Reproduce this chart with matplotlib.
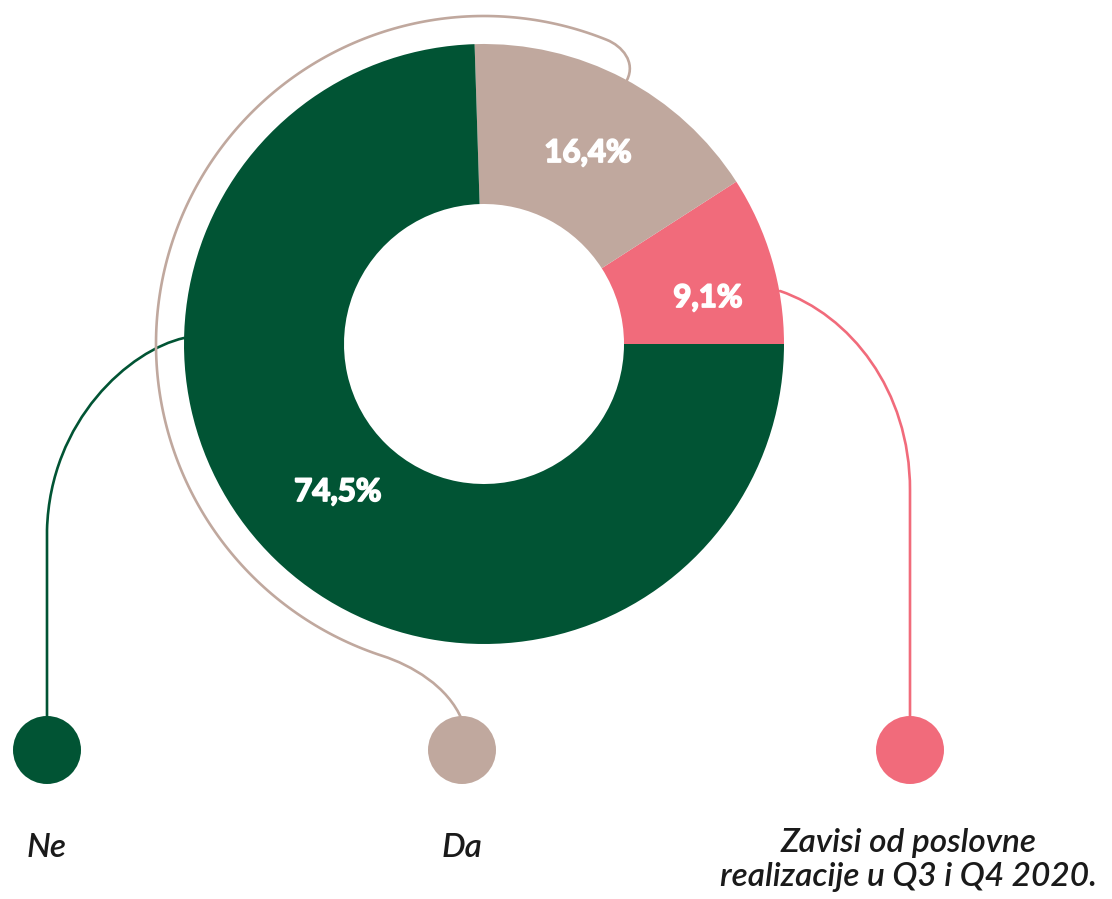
import numpy as np
import matplotlib
matplotlib.use("Agg")
import matplotlib.pyplot as plt
import matplotlib.patheffects as pe
from matplotlib.path import Path
from matplotlib.patches import PathPatch, Circle

# ---- data ----
categories = ["Zavisi od poslovne\nrealizacije u Q3 i Q4 2020.", "Da", "Ne"]
values = [9.1, 16.4, 74.5]
value_labels = ["9,1%", "16,4%", "74,5%"]
colors = ["#F16B7B", "#C0A89E", "#015434"]

W, H = 1112, 899
def P(x, y):
    return (x, H - y)

fig = plt.figure(figsize=(W / 100, H / 100), dpi=100)
ax = fig.add_axes([0, 0, 1, 1])

cx, cy, R, width = 484, 344, 300, 160
ax.pie(values, colors=colors, startangle=0, counterclock=True, radius=R,
       center=P(cx, cy), frame=True,
       wedgeprops=dict(width=width, linewidth=0))

# value labels
label_pos = [(708, 298), (588, 153), (338, 492)]
for (x, y), t in zip(label_pos, value_labels):
    ax.text(*P(x, y), t, color="white", fontsize=22.5, fontweight="bold",
            family=["Lato", "DejaVu Sans"], ha="center", va="center",
            path_effects=[pe.withStroke(linewidth=1.3, foreground="white")])

lw = 1.9

def bez_path(segs):
    verts, codes = [], []
    for i, seg in enumerate(segs):
        kind, pts = seg
        if i == 0:
            verts.append(P(*pts[0])); codes.append(Path.MOVETO)
            pts = pts[1:]
        if kind == "L":
            for p in pts:
                verts.append(P(*p)); codes.append(Path.LINETO)
        else:
            for p in pts:
                verts.append(P(*p)); codes.append(Path.CURVE4)
    return Path(verts, codes)

# green connector
g = bez_path([("C", [(184, 338), (130, 350), (50, 420), (47, 530)]),
              ("L", [(47, 720)])])
ax.add_patch(PathPatch(g, fill=False, edgecolor=colors[2], lw=lw, capstyle="round"))

# pink connector
p = bez_path([("C", [(780, 291), (850, 315), (910, 390), (910, 490)]),
              ("L", [(910, 720)])])
ax.add_patch(PathPatch(p, fill=False, edgecolor=colors[0], lw=lw, capstyle="round"))

# beige outer arc connector
ra = 328
th = np.radians(np.linspace(68, 252, 200))
arc = [(cx + ra * np.cos(t), cy - ra * np.sin(t)) for t in th]
start = arc[0]
verts = [P(627, 80), P(636, 62), P(622, 46), P(*start)]
codes = [Path.MOVETO, Path.CURVE4, Path.CURVE4, Path.CURVE4]
for a in arc[1:]:
    verts.append(P(*a)); codes.append(Path.LINETO)
end = arc[-1]
tt = np.radians(252)
tx, ty = -np.sin(tt), np.cos(tt)
verts += [P(end[0] + tx * 30, end[1] - ty * 30), P(448, 686), P(462, 720)]
codes += [Path.CURVE4] * 3
ax.add_patch(PathPatch(Path(verts, codes), fill=False, edgecolor=colors[1],
                       lw=lw, capstyle="round"))

# end circles
circle_x = [910, 462, 47]
for x, c in zip(circle_x, colors):
    ax.add_patch(Circle(P(x, 750), 34, facecolor=c, edgecolor="none", zorder=5))

# category labels
fs = 24
kw = dict(fontsize=fs, style="italic", fontweight="semibold",
          family=["Lato", "DejaVu Sans"], color="#1a1a1a")
ax.text(*P(47, 848), "Ne", ha="center", va="center", **kw)
ax.text(*P(462, 848), "Da", ha="center", va="center", **kw)
ax.text(*P(909, 892), categories[0], ha="center", va="bottom",
        multialignment="center", linespacing=1.15, **kw)

ax.set_xlim(0, W)
ax.set_ylim(0, H)
ax.set_aspect("auto")
ax.axis("off")
fig.savefig("out.png", dpi=100, facecolor="white")
